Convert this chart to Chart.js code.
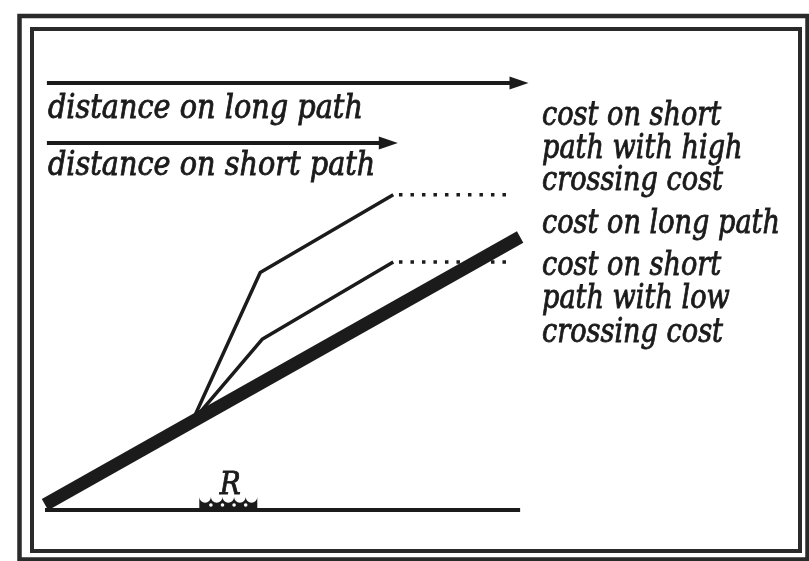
<!DOCTYPE html>
<html>
<head>
<meta charset="utf-8">
<script src="https://cdn.jsdelivr.net/npm/chart.js@4"></script>
<style>
  html, body { margin: 0; padding: 0; background: #fff; }
  #wrap { width: 809px; height: 561px; }
</style>
</head>
<body>
<div id="wrap"><canvas id="costChart" width="809" height="561"></canvas></div>
<script>
// x = distance travelled, y = accumulated cost (arbitrary units)
const baseX = [0, 10];
const baseCost = [0, 0];
const longPathX = [0, 10];
const longPathCost = [0.2, 10];
const highCrossX = [3.1, 4.53, 7.33];
const highCrossCost = [3.25, 8.7, 11.55];
const lowCrossX = [3.1, 4.57, 7.33];
const lowCrossCost = [3.25, 6.25, 9.08];
const highFlatX = [7.45, 9.8];
const lowFlatX = [7.45, 9.85];
const arrowStart = 0.04;
const longDistance = 10.05;
const shortDistance = 7.3;
const longArrowLevel = 15.64;
const shortArrowLevel = 13.44;
const riverX = 3.9;

const leftLabels = ["distance on long path", "distance on short path"];
const rightLabels = [
  "cost on short", "path with high", "crossing cost",
  "cost on long path",
  "cost on short", "path with low", "crossing cost",
];
const riverLabel = "R";

const ink = "#1b1b1b";
const fontFamily = '"DejaVu Serif", "Liberation Serif", serif';

function pts(xs, ys) {
  return xs.map((x, i) => ({ x: x, y: ys[i] }));
}

function flat(xs, y) {
  return xs.map((x) => ({ x: x, y: y }));
}

const frame = {
  id: "frame",
  beforeDraw(chart) {
    const c = chart.ctx;
    c.save();
    c.fillStyle = "#fff";
    c.fillRect(0, 0, chart.width, chart.height);
    c.strokeStyle = "#2a2a2a";
    c.lineWidth = 4.5;
    c.strokeRect(19.5, 16, 788, 543.5);
    c.lineWidth = 4;
    c.strokeRect(32, 29, 768, 522);
    c.restore();
  },
};

const notes = {
  id: "notes",
  afterDatasetsDraw(chart) {
    const c = chart.ctx;
    const xs = chart.scales.x;
    const ys = chart.scales.y;
    c.save();
    c.fillStyle = ink;
    c.strokeStyle = ink;

    // arrow heads
    [[longDistance, longArrowLevel], [shortDistance, shortArrowLevel]].forEach(([tx, ty]) => {
      const px = xs.getPixelForValue(tx);
      const py = ys.getPixelForValue(ty);
      c.beginPath();
      c.moveTo(px + 6, py);
      c.lineTo(px - 13, py - 6.5);
      c.lineTo(px - 13, py + 6.5);
      c.closePath();
      c.fill();
    });

    c.font = "italic 33px " + fontFamily;
    c.textBaseline = "alphabetic";
    c.lineWidth = 0.9;
    const leftSqueeze = 315 / c.measureText(leftLabels[0]).width;
    const rightSqueeze = 238 / c.measureText(rightLabels[3]).width;

    function put(text, px, py, sx) {
      c.save();
      c.translate(px, py);
      c.scale(sx, 1);
      c.fillText(text, 0, 0);
      c.strokeText(text, 0, 0);
      c.restore();
    }

    const leftX = xs.getPixelForValue(arrowStart) + 1;
    put(leftLabels[0], leftX, ys.getPixelForValue(longArrowLevel) + 35, leftSqueeze);
    put(leftLabels[1], leftX, ys.getPixelForValue(shortArrowLevel) + 32, leftSqueeze);

    const rightX = 542;
    const rightY = [125, 158, 190, 233, 275, 308, 342];
    rightLabels.forEach((t, i) => put(t, rightX, rightY[i], rightSqueeze));

    // river crossing symbol
    const rx = xs.getPixelForValue(riverX);
    const ry = ys.getPixelForValue(0);
    c.font = "italic 31px " + fontFamily;
    c.textAlign = "center";
    put(riverLabel, rx, ry - 16, 0.9);
    c.textAlign = "left";
    const left = rx - 31;
    const cup = 11.6;
    c.beginPath();
    c.moveTo(left, ry - 13);
    for (let i = 0; i < 5; i++) {
      const cx = left + cup * i + cup / 2;
      c.arc(cx, ry - 13, cup / 2, Math.PI, 0, true);
    }
    c.lineTo(left + cup * 5, ry);
    c.lineTo(left, ry);
    c.closePath();
    c.fill();
    c.fillStyle = "#fff";
    for (let i = 0; i < 4; i++) {
      c.beginPath();
      c.arc(left + cup * (i + 1), ry - 5, 1.8, 0, Math.PI * 2);
      c.fill();
    }
    c.restore();
  },
};

const lineStyle = {
  showLine: true,
  pointRadius: 0,
  borderColor: ink,
  fill: false,
  clip: false,
  tension: 0,
};

new Chart(document.getElementById("costChart"), {
  type: "scatter",
  data: {
    datasets: [
      { ...lineStyle, data: pts(baseX, baseCost), borderWidth: 4 },
      { ...lineStyle, data: pts(longPathX, longPathCost), borderWidth: 13 },
      { ...lineStyle, data: pts(highCrossX, highCrossCost), borderWidth: 3.5, borderJoinStyle: "round" },
      { ...lineStyle, data: pts(lowCrossX, lowCrossCost), borderWidth: 3.5, borderJoinStyle: "round" },
      { ...lineStyle, data: flat(highFlatX, highCrossCost[2]), borderWidth: 3.5, borderDash: [3.5, 8] },
      { ...lineStyle, data: flat(lowFlatX, lowCrossCost[2]), borderWidth: 3.5, borderDash: [3.5, 8] },
      { ...lineStyle, data: flat([arrowStart, longDistance - 0.2], longArrowLevel), borderWidth: 4 },
      { ...lineStyle, data: flat([arrowStart, shortDistance - 0.2], shortArrowLevel), borderWidth: 4 },
    ],
  },
  plugins: [frame, notes],
  options: {
    responsive: false,
    animation: false,
    layout: { padding: 0 },
    plugins: {
      legend: { display: false },
      tooltip: { enabled: false },
    },
    scales: {
      x: { type: "linear", display: false, min: -0.947, max: 16.08 },
      y: { type: "linear", display: false, min: -1.868, max: 18.68 },
    },
  },
});
</script>
</body>
</html>
